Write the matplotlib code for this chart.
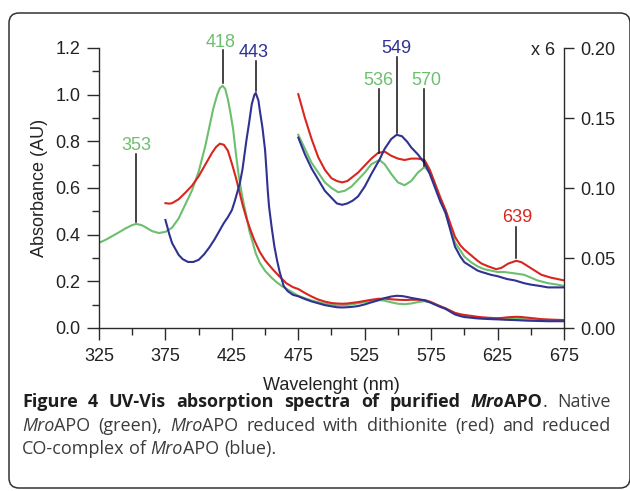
import numpy as np
import matplotlib.pyplot as plt
from matplotlib.patches import FancyBboxPatch
from matplotlib.ticker import FixedLocator, MultipleLocator, FormatStrFormatter

plt.rcParams['font.family'] = ['Liberation Sans', 'DejaVu Sans']

# --- spectra (wavelength nm, absorbance AU) ---
green_nm = [325, 330, 335, 340, 345, 350, 353, 357, 360, 365, 370, 375, 380, 385, 390,
            395, 400, 405, 408, 411, 414, 416, 418, 420, 422, 424, 426, 428, 430, 432,
            434, 436, 438, 440, 443, 446, 450, 455, 459, 463, 466, 470, 475, 480, 485,
            490, 495, 500, 505, 510, 515, 520, 525, 530, 536, 540, 545, 550, 555, 560,
            565, 570, 575, 580, 583, 588, 593, 600, 605, 610, 615, 620, 625, 630, 638,
            645, 650, 655, 663, 670, 675]
green_abs = [0.365, 0.378, 0.394, 0.410, 0.427, 0.441, 0.446, 0.441, 0.432, 0.415, 0.407,
             0.412, 0.430, 0.470, 0.530, 0.590, 0.670, 0.780, 0.860, 0.940, 1.000, 1.028,
             1.038, 1.025, 0.980, 0.920, 0.850, 0.750, 0.660, 0.590, 0.530, 0.480, 0.420,
             0.380, 0.320, 0.280, 0.245, 0.215, 0.195, 0.178, 0.168, 0.155, 0.138, 0.128,
             0.118, 0.111, 0.104, 0.100, 0.097, 0.098, 0.101, 0.106, 0.111, 0.117, 0.120,
             0.117, 0.110, 0.104, 0.102, 0.105, 0.111, 0.115, 0.110, 0.097, 0.090, 0.075,
             0.061, 0.051, 0.047, 0.044, 0.042, 0.041, 0.040, 0.040, 0.039, 0.038, 0.036,
             0.034, 0.032, 0.031, 0.030]

red_nm = [375, 378, 380, 385, 390, 395, 400, 405, 410, 413, 416, 419, 422, 425, 428,
          430, 433, 436, 439, 442, 446, 450, 456, 461, 466, 471, 475, 480, 485, 490,
          495, 500, 504, 508, 512, 516, 520, 525, 530, 535, 540, 545, 550, 555, 560,
          565, 570, 574, 578, 582, 586, 590, 593, 597, 600, 605, 610, 613, 618, 624,
          628, 633, 636, 639, 643, 648, 653, 658, 665, 670, 675]
red_abs = [0.535, 0.533, 0.535, 0.552, 0.580, 0.610, 0.650, 0.700, 0.750, 0.775, 0.790,
           0.785, 0.760, 0.705, 0.645, 0.600, 0.530, 0.470, 0.420, 0.375, 0.326, 0.290,
           0.250, 0.220, 0.192, 0.175, 0.167, 0.150, 0.135, 0.122, 0.113, 0.107, 0.105,
           0.104, 0.105, 0.108, 0.111, 0.116, 0.121, 0.125, 0.126, 0.123, 0.121, 0.120,
           0.121, 0.121, 0.120, 0.113, 0.103, 0.093, 0.084, 0.073, 0.065, 0.059, 0.056,
           0.052, 0.048, 0.046, 0.044, 0.042, 0.043, 0.046, 0.047, 0.048, 0.047, 0.044,
           0.041, 0.038, 0.036, 0.035, 0.034]

blue_nm = [375, 378, 380, 385, 388, 392, 396, 400, 404, 408, 412, 416, 419, 422, 425,
           427, 429, 431, 433, 436, 438, 440, 442, 443, 445, 446, 448, 450, 451, 452,
           453, 455, 457, 459, 461, 464, 467, 471, 475, 480, 485, 490, 495, 500, 504,
           508, 512, 516, 520, 525, 530, 536, 540, 545, 549, 553, 557, 560, 565, 570,
           574, 578, 582, 586, 590, 593, 597, 600, 605, 610, 613, 620, 625, 632, 638,
           645, 650, 657, 663, 670, 675]
blue_abs = [0.463, 0.400, 0.364, 0.313, 0.295, 0.283, 0.283, 0.292, 0.315, 0.345, 0.380,
            0.420, 0.450, 0.475, 0.505, 0.540, 0.580, 0.620, 0.680, 0.806, 0.880, 0.960,
            1.000, 1.007, 0.975, 0.934, 0.860, 0.763, 0.680, 0.590, 0.520, 0.430, 0.350,
            0.290, 0.240, 0.180, 0.158, 0.142, 0.136, 0.124, 0.114, 0.106, 0.098, 0.093,
            0.089, 0.088, 0.089, 0.091, 0.094, 0.101, 0.110, 0.120, 0.128, 0.135, 0.138,
            0.137, 0.133, 0.129, 0.124, 0.118, 0.110, 0.100, 0.090, 0.082, 0.068, 0.058,
            0.051, 0.047, 0.044, 0.041, 0.040, 0.038, 0.037, 0.035, 0.034, 0.032, 0.031,
            0.030, 0.029, 0.029, 0.029]

ZOOM_START = 475  # magnified (x 6) part starts here
x_ticks = [325, 375, 425, 475, 525, 575, 625, 675]

# peak labels: wavelength, colour key, which axis
peaks_left = [353, 418, 443]
peaks_right = [536, 549, 570, 639]

GREEN = '#6cbf6e'
RED = '#d8261f'
BLUE = '#2f3193'
colors = {'green': GREEN, 'red': RED, 'blue': BLUE}

fig = plt.figure(figsize=(6.3, 4.91), dpi=100)

# rounded frame round the whole figure
frame = FancyBboxPatch((0.09, 0.03), 6.21, 4.75,
                       boxstyle='round,pad=0,rounding_size=0.1',
                       transform=fig.dpi_scale_trans, fill=False,
                       edgecolor='#333333', linewidth=1.1)
fig.patches.append(frame)

ax = fig.add_axes([99 / 630, 163 / 491, 465 / 630, 280 / 491])
ax2 = ax.twinx()

series = [(green_nm, green_abs, GREEN), (red_nm, red_abs, RED), (blue_nm, blue_abs, BLUE)]
for nm, ab, c in series:
    ax.plot(nm, ab, color=c, lw=1.5, solid_joinstyle='round')
    nm = np.array(nm)
    ab = np.array(ab)
    m = nm >= ZOOM_START
    ax2.plot(nm[m], ab[m], color=c, lw=1.5, solid_joinstyle='round')

ax.set_xlim(325, 675)
ax.set_ylim(0, 1.2)
ax2.set_ylim(0, 0.2)

axis_col = '#2a2a2a'
for a in (ax, ax2):
    for s in a.spines.values():
        s.set_color(axis_col)
        s.set_linewidth(1.0)
ax.spines['top'].set_visible(False)
ax.spines['right'].set_visible(False)
ax2.spines['top'].set_visible(False)
ax2.spines['left'].set_visible(False)
ax2.spines['bottom'].set_visible(False)

ax.xaxis.set_major_locator(FixedLocator(x_ticks))
ax.xaxis.set_minor_locator(MultipleLocator(25))
ax.yaxis.set_major_locator(MultipleLocator(0.2))
ax.yaxis.set_minor_locator(MultipleLocator(0.1))
ax.yaxis.set_major_formatter(FormatStrFormatter('%.1f'))
ax2.yaxis.set_major_locator(MultipleLocator(0.05))
ax2.yaxis.set_major_formatter(FormatStrFormatter('%.2f'))

ax.tick_params(which='major', length=8.5, width=1.0, color=axis_col,
               labelsize=13, labelcolor='#222222', pad=5)
ax.tick_params(which='minor', length=5, width=1.0, color=axis_col)
ax.tick_params(axis='x', which='major', pad=6)
ax2.tick_params(which='major', length=7, width=1.0, color=axis_col,
                labelsize=13, labelcolor='#222222', pad=5)

ax.set_xlabel('Wavelenght (nm)', fontsize=13, color='#222222')
ax.xaxis.set_label_coords(0.5, -0.205)
ax.xaxis.label.set_va('center')
ax.set_ylabel('Absorbance (AU)', fontsize=13, color='#222222')
ax.yaxis.set_label_coords(-0.128, 0.5)
ax.yaxis.label.set_va('center')

# peak markers: (line bottom, line top, label baseline, label x)
left_marks = {353: ('green', 0.455, 0.745, 0.763, 353),
              418: ('green', 1.05, 1.19, 1.206, 416.5),
              443: ('blue', 1.016, 1.144, 1.163, 441.5)}
right_marks = {536: ('green', 0.125, 0.171, 0.1736, 535.5),
               549: ('blue', 0.139, 0.1936, 0.1962, 548.5),
               570: ('green', 0.116, 0.171, 0.1736, 571),
               639: ('red', 0.050, 0.072, 0.0759, 639.5)}
for a, peaks, marks in ((ax, peaks_left, left_marks), (ax2, peaks_right, right_marks)):
    for p in peaks:
        ck, y0, y1, yt, xt = marks[p]
        a.plot([p, p], [y0, y1], color='#111111', lw=1.1, clip_on=False)
        a.text(xt, yt, str(p), color=colors[ck], fontsize=13, ha='center',
               va='baseline', clip_on=False)

ax2.text(668.5, 0.195, 'x 6', fontsize=13, color='#222222', ha='right', va='baseline')

# --- caption, justified like the journal layout ---
cap_fs = 13.0
cap_family = ['Open Sans', 'DejaVu Sans']
B, I, BI, N = ('bold', 'normal'), ('normal', 'italic'), ('bold', 'italic'), ('normal', 'normal')
cap_lines = [
    [[('Figure', B)], [('4', B)], [('UV-Vis', B)], [('absorption', B)], [('spectra', B)],
     [('of', B)], [('purified', B)], [('Mro', BI), ('APO', B), ('.', N)], [('Native', N)]],
    [[('Mro', I), ('APO', N)], [('(green),', N)], [('Mro', I), ('APO', N)], [('reduced', N)],
     [('with', N)], [('dithionite', N)], [('(red)', N)], [('and', N)], [('reduced', N)]],
    [[('CO-complex', N)], [('of', N)], [('Mro', I), ('APO', N)], [('(blue).', N)]],
]
cap_base = [407, 431, 454]
cap_x0, cap_x1 = 22, 611

fig.canvas.draw()
rend = fig.canvas.get_renderer()


def run_width(txt, style):
    t = fig.text(0, 0, txt, fontsize=cap_fs, fontweight=style[0], fontstyle=style[1],
                 family=cap_family)
    w = t.get_window_extent(rend).width
    t.remove()
    return w


space_w = run_width('a a', N) - run_width('aa', N)
for li, words in enumerate(cap_lines):
    widths = [sum(run_width(t, s) for t, s in w) for w in words]
    if li < len(cap_lines) - 1:
        gap = (cap_x1 - cap_x0 - sum(widths)) / (len(words) - 1)
    else:
        gap = space_w
    x = cap_x0
    yb = 1 - cap_base[li] / 491
    for w, ww in zip(words, widths):
        xr = x
        for txt, st in w:
            col = '#1e1e1e' if st[0] == 'bold' else '#3c3c3c'
            fig.text(xr / 630, yb, txt, fontsize=cap_fs, fontweight=st[0], fontstyle=st[1],
                     family=cap_family, color=col, va='baseline', ha='left')
            xr += run_width(txt, st)
        x += ww + gap

fig.savefig('out.png', dpi=100)
